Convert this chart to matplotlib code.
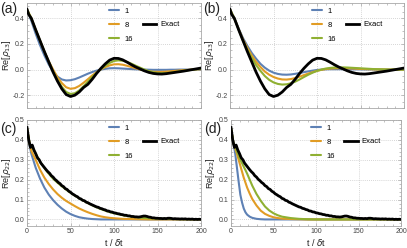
import matplotlib
matplotlib.use("Agg")
import matplotlib.pyplot as plt
from matplotlib.ticker import MultipleLocator, FormatStrFormatter

plt.rcParams['font.family'] = ['Liberation Sans', 'DejaVu Sans']
plt.rcParams['mathtext.fontset'] = 'dejavusans'

# ---------------- data ----------------
series_labels = ["1", "8", "16"]
exact_label = "Exact"
panel_labels = ["(a)", "(b)", "(c)", "(d)"]
ylabels = [r"Re[$\rho_{13}$]", r"Re[$\rho_{13}$]", r"Re[$\rho_{22}$]", r"Re[$\rho_{22}$]"]
xlabel = r"t / $\delta$t"

# exact solution, coherence (panels a, b)
t_exact_ab = [0, 2, 5, 10, 15, 20, 25, 30, 35, 40, 45, 50, 55, 60, 65, 70, 75, 80, 85, 90,
              95, 100, 105, 110, 115, 120, 125, 130, 135, 140, 145, 150, 155, 160, 165, 170,
              175, 180, 185, 190, 195, 200]
exact_ab = [0.47, 0.43, 0.40, 0.31, 0.225, 0.14, 0.06, -0.02, -0.09, -0.15, -0.195, -0.21,
            -0.20, -0.175, -0.14, -0.115, -0.075, -0.03, 0.01, 0.045, 0.074, 0.088, 0.087,
            0.076, 0.058, 0.038, 0.02, 0.005, -0.01, -0.022, -0.03, -0.034, -0.035, -0.032,
            -0.027, -0.022, -0.017, -0.012, -0.006, 0.0, 0.006, 0.012]

t5 = [0, 5, 10, 15, 20, 25, 30, 35, 40, 45, 50, 55, 60, 65, 70, 75, 80, 85, 90, 95, 100,
      105, 110, 115, 120, 125, 130, 135, 140, 145, 150, 155, 160, 165, 170, 175, 180, 185,
      190, 195, 200]

# panel (a)
a_1 = [0.47, 0.38, 0.28, 0.19, 0.11, 0.04, -0.015, -0.055, -0.077, -0.085, -0.083, -0.075,
       -0.062, -0.047, -0.032, -0.019, -0.008, 0.0, 0.006, 0.01, 0.011, 0.01, 0.008, 0.006,
       0.004, 0.002, 0.001, 0.0, -0.001, -0.002, -0.002, -0.002, -0.002, -0.001, -0.001,
       0.0, 0.0, 0.0, 0.001, 0.001, 0.001]
a_8 = [0.47, 0.40, 0.31, 0.225, 0.14, 0.065, 0.0, -0.06, -0.105, -0.138, -0.15, -0.145,
       -0.128, -0.103, -0.075, -0.046, -0.02, 0.002, 0.02, 0.033, 0.041, 0.042, 0.038,
       0.03, 0.02, 0.01, 0.001, -0.007, -0.013, -0.017, -0.018, -0.018, -0.016, -0.013,
       -0.01, -0.007, -0.004, -0.002, 0.0, 0.002, 0.003]
a_16 = [0.47, 0.40, 0.31, 0.225, 0.14, 0.06, -0.015, -0.08, -0.135, -0.175, -0.19, -0.185,
        -0.163, -0.13, -0.095, -0.058, -0.025, 0.005, 0.03, 0.052, 0.067, 0.072, 0.069,
        0.06, 0.046, 0.03, 0.015, 0.0, -0.012, -0.021, -0.026, -0.028, -0.027, -0.024,
        -0.019, -0.014, -0.009, -0.005, -0.001, 0.003, 0.005]

# panel (b)
b_1 = [0.47, 0.40, 0.32, 0.245, 0.185, 0.13, 0.085, 0.045, 0.015, -0.008, -0.024, -0.034,
       -0.039, -0.04, -0.038, -0.033, -0.027, -0.02, -0.014, -0.008, -0.003, 0.0, 0.002,
       0.003, 0.003, 0.003, 0.003, 0.003, 0.002, 0.002, 0.002, 0.001, 0.001, 0.001, 0.0,
       0.0, 0.0, 0.0, 0.0, 0.0, 0.0]
b_8 = [0.47, 0.40, 0.315, 0.235, 0.17, 0.11, 0.06, 0.02, -0.015, -0.04, -0.058, -0.07,
       -0.077, -0.078, -0.074, -0.066, -0.055, -0.043, -0.031, -0.02, -0.01, -0.002, 0.004,
       0.008, 0.01, 0.011, 0.011, 0.01, 0.009, 0.007, 0.005, 0.004, 0.003, 0.002, 0.001,
       0.001, 0.0, 0.0, 0.0, 0.0, 0.0]
b_16 = [0.47, 0.40, 0.31, 0.225, 0.155, 0.09, 0.035, -0.01, -0.05, -0.08, -0.1, -0.112,
        -0.117, -0.115, -0.107, -0.094, -0.077, -0.058, -0.04, -0.024, -0.01, 0.0, 0.008,
        0.013, 0.016, 0.017, 0.017, 0.016, 0.014, 0.012, 0.01, 0.008, 0.006, 0.004, 0.003,
        0.002, 0.001, 0.0, 0.0, 0.0, 0.0]

# exact solution, population (panels c, d)
t_exact_cd = list(range(0, 202, 2))
exact_cd = [0.462, 0.400, 0.362, 0.374, 0.349, 0.331, 0.310, 0.300, 0.283, 0.272,
            0.261, 0.250, 0.240, 0.232, 0.220, 0.213, 0.202, 0.195, 0.186, 0.180,
            0.170, 0.165, 0.155, 0.151, 0.142, 0.137, 0.129, 0.124, 0.118, 0.114,
            0.106, 0.103, 0.096, 0.094, 0.087, 0.084, 0.079, 0.075, 0.071, 0.067,
            0.063, 0.061, 0.056, 0.054, 0.050, 0.048, 0.043, 0.042, 0.038, 0.037,
            0.033, 0.032, 0.029, 0.028, 0.025, 0.024, 0.021, 0.021, 0.018, 0.018,
            0.015, 0.015, 0.013, 0.013, 0.012, 0.013, 0.015, 0.017, 0.017, 0.015,
            0.012, 0.011, 0.008, 0.008, 0.006, 0.006, 0.005, 0.005, 0.004, 0.005,
            0.004, 0.006, 0.006, 0.005, 0.003, 0.004, 0.003, 0.003, 0.002, 0.003,
            0.002, 0.003, 0.001, 0.002, 0.001, 0.002, 0.000, 0.001, 0.000, 0.001,
            0.000]

# panel (c)
t_c = [0, 3, 5, 10, 15, 20, 25, 30, 35, 40, 45, 50, 55, 60, 65, 70, 75, 80, 85, 90, 95,
       100, 110, 120, 130, 140, 150, 160, 170, 180, 190, 200]
c_1 = [0.46, 0.37, 0.33, 0.26, 0.205, 0.16, 0.125, 0.097, 0.074, 0.055, 0.039, 0.027,
       0.018, 0.011, 0.007, 0.004, 0.002, 0.001, 0.0, 0.0, 0.0, 0.0, 0.0, 0.0, 0.0, 0.0,
       0.0, 0.0, 0.0, 0.0, 0.0, 0.0]
c_8 = [0.46, 0.38, 0.345, 0.30, 0.25, 0.21, 0.178, 0.151, 0.128, 0.109, 0.093, 0.08,
       0.067, 0.055, 0.045, 0.036, 0.028, 0.021, 0.015, 0.011, 0.008, 0.006, 0.003, 0.002,
       0.001, 0.0, 0.0, 0.0, 0.0, 0.0, 0.0, 0.0]
c_16 = [0.46, 0.38, 0.37, 0.33, 0.29, 0.258, 0.23, 0.205, 0.185, 0.167, 0.15, 0.134,
        0.12, 0.106, 0.094, 0.082, 0.071, 0.061, 0.052, 0.044, 0.037, 0.031, 0.021, 0.014,
        0.009, 0.006, 0.004, 0.003, 0.002, 0.001, 0.001, 0.001]

# panel (d)
t_d = [0, 3, 5, 7, 9, 11, 13, 15, 17, 19, 22, 25, 30, 35, 40, 45, 50, 55, 60, 70, 80,
       90, 100, 120, 140, 160, 180, 200]
d_1 = [0.46, 0.38, 0.33, 0.26, 0.19, 0.124, 0.085, 0.055, 0.036, 0.024, 0.014, 0.008,
       0.003, 0.001, 0.0, 0.0, 0.0, 0.0, 0.0, 0.0, 0.0, 0.0, 0.0, 0.0, 0.0, 0.0, 0.0, 0.0]
d_8 = [0.46, 0.38, 0.355, 0.33, 0.30, 0.27, 0.24, 0.21, 0.185, 0.16, 0.13, 0.103, 0.07,
       0.044, 0.028, 0.018, 0.011, 0.007, 0.004, 0.002, 0.001, 0.0, 0.0, 0.0, 0.0, 0.0,
       0.0, 0.0]
d_16 = [0.46, 0.38, 0.37, 0.34, 0.32, 0.30, 0.283, 0.265, 0.248, 0.23, 0.2, 0.17, 0.128,
        0.094, 0.065, 0.045, 0.031, 0.021, 0.014, 0.007, 0.003, 0.001, 0.0, 0.0, 0.0, 0.0,
        0.0, 0.0]

# ---------------- style ----------------
colors = ["#5E81B5", "#E19C24", "#8FB032"]
exact_color = "black"
frame_color = "#a8a8a8"
tick_label_color = "#444444"

W, H = 407, 248
fig = plt.figure(figsize=(W / 100, H / 100), dpi=100)

def px_axes(left, top, right, bottom):
    return fig.add_axes([left / W, 1 - bottom / H, (right - left) / W, (bottom - top) / H])

boxes = [(27, 3, 201, 108), (230, 3, 404, 108), (27, 120, 201, 226), (231, 120, 401, 226)]
axes = [px_axes(*b) for b in boxes]

panels = [
    (t5, [a_1, a_8, a_16], t_exact_ab, exact_ab),
    (t5, [b_1, b_8, b_16], t_exact_ab, exact_ab),
    (t_c, [c_1, c_8, c_16], t_exact_cd, exact_cd),
    (t_d, [d_1, d_8, d_16], t_exact_cd, exact_cd),
]

for i, (ax, (tt, ys, te, ye)) in enumerate(zip(axes, panels)):
    bw = boxes[i][2] - boxes[i][0]
    bh = boxes[i][3] - boxes[i][1]
    handles = []
    for j, (y, c) in enumerate(zip(ys, colors)):
        h, = ax.plot(tt, y, color=c, lw=1.5, zorder=2 + j, solid_capstyle='round')
        handles.append(h)
    he, = ax.plot(te, ye, color=exact_color, lw=2.0, zorder=6, solid_joinstyle='round')

    ax.set_xlim(0, 200)
    if i < 2:
        ax.set_ylim(-0.3, 0.52)
        ax.yaxis.set_major_locator(MultipleLocator(0.2))
        ax.yaxis.set_minor_locator(MultipleLocator(0.05))
        ax.tick_params(axis='x', labelbottom=False)
    else:
        ax.set_ylim(-0.033, 0.5)
        ax.yaxis.set_major_locator(MultipleLocator(0.1))
        ax.yaxis.set_minor_locator(MultipleLocator(0.02))
        ax.set_xlabel(xlabel, fontsize=6.5, labelpad=1.5, color="#222222")
    ax.xaxis.set_major_locator(MultipleLocator(50))
    ax.xaxis.set_minor_locator(MultipleLocator(10))
    ax.yaxis.set_major_formatter(FormatStrFormatter('%.1f'))

    ax.grid(True, which='major', color='#c8c8c8', linestyle=(0, (1, 1.5)), linewidth=0.6)
    for s in ax.spines.values():
        s.set_color(frame_color)
        s.set_linewidth(0.6)
    ax.tick_params(which='both', direction='in', color=frame_color, width=0.5,
                   labelsize=5, labelcolor=tick_label_color, pad=1.5,
                   top=True, right=True)
    ax.tick_params(which='major', length=2.5)
    ax.tick_params(which='minor', length=1.2)

    ax.set_ylabel(ylabels[i], fontsize=6.5, color="#222222", va='center')
    ax.yaxis.set_label_coords(-20.5 / bw, 0.5)

    label_top = 1 + 1 / bh if i < 2 else 1 - 2 / bh
    ax.text(-27 / bw, label_top, panel_labels[i], transform=ax.transAxes, fontsize=10,
            ha='left', va='top', color="#222222")

    leg1 = ax.legend(handles, series_labels, loc='upper left',
                     bbox_to_anchor=(0.47, 0.955), frameon=False, fontsize=5.5,
                     handlelength=1.3, handletextpad=0.8, labelspacing=0.85,
                     borderpad=0, borderaxespad=0)
    ax.add_artist(leg1)
    ax.legend([he], [exact_label], loc='upper left', bbox_to_anchor=(0.665, 0.83),
              frameon=False, fontsize=5.5, handlelength=1.8, handletextpad=0.5,
              borderpad=0, borderaxespad=0)

fig.savefig("out.png", dpi=100)
